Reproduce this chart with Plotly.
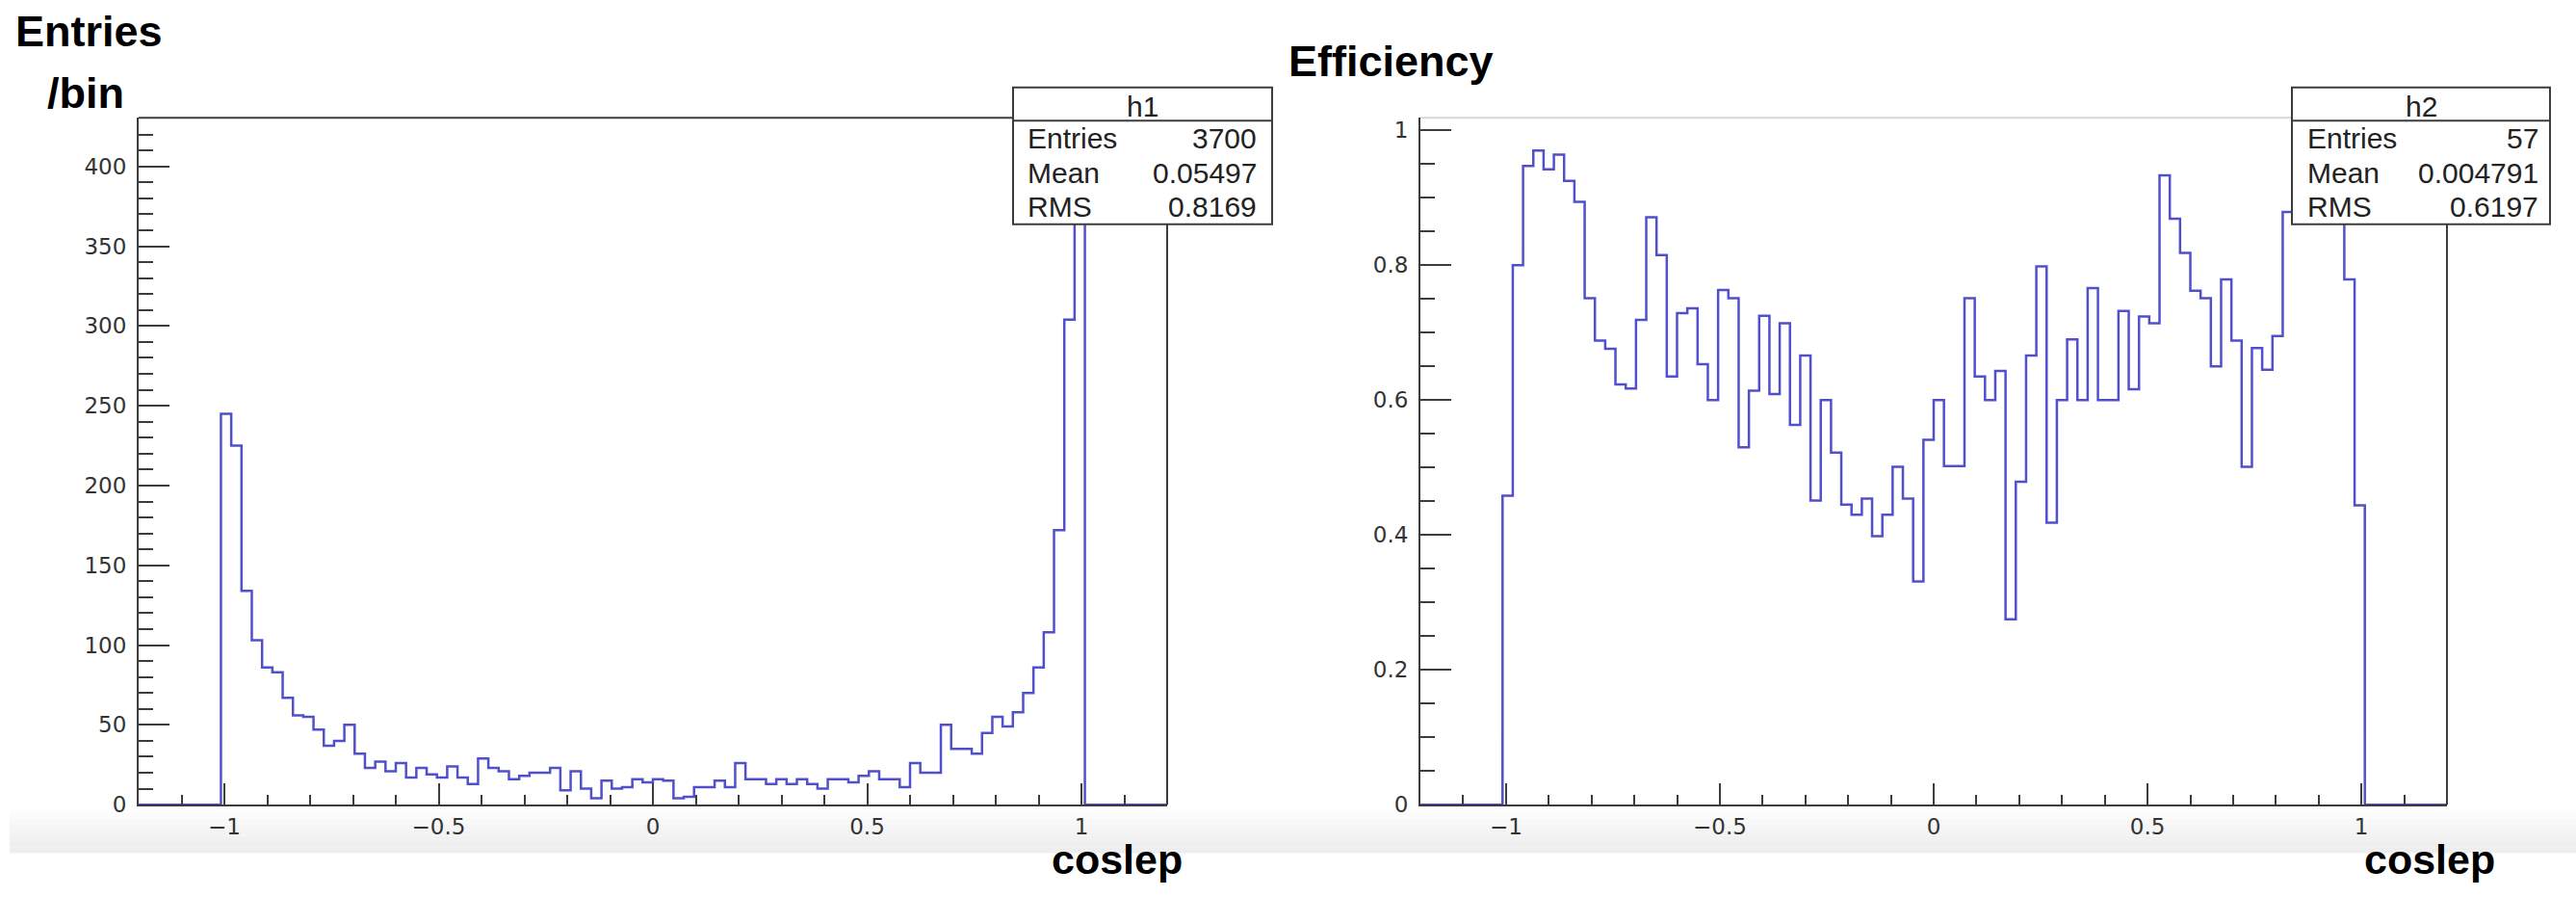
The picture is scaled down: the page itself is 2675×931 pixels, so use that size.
import plotly.graph_objects as go

W, H = 2675, 931

# ---------------- data ----------------
# both histograms: 100 bins on [-1.2, 1.2]; filled bins start at bin index 8
X_LO, X_HI, N_BINS = -1.2, 1.2, 100
FIRST_BIN = 8

entries_per_bin = [
    245, 225, 134, 103, 86, 83, 67, 56, 55, 47, 37, 40, 50, 32,
    23, 27, 21, 26, 17, 23, 19, 17, 24, 17, 13, 29, 23, 21, 16, 18,
    20, 20, 23, 9, 21, 10, 4, 15, 10, 11, 16, 14, 16, 15, 4, 5,
    11, 11, 15, 11, 26, 16, 16, 13, 16, 13, 16, 13, 10, 16, 16, 14,
    18, 21, 16, 16, 11, 26, 20, 20,
    50, 35, 35, 32, 45, 55, 49, 58, 70, 86, 108, 172, 304, 410,
]

efficiency = [
    0.458, 0.800, 0.947, 0.970, 0.942, 0.964, 0.925, 0.894, 0.751, 0.688,
    0.676, 0.623, 0.617, 0.719, 0.871, 0.815, 0.635, 0.729, 0.736, 0.653,
    0.600, 0.763, 0.751, 0.530, 0.614, 0.725, 0.609, 0.714, 0.563, 0.666,
    0.451, 0.600, 0.522, 0.445, 0.430, 0.454, 0.398, 0.430, 0.501, 0.454,
    0.331, 0.541, 0.600, 0.502, 0.502, 0.751, 0.635, 0.600, 0.643, 0.275,
    0.479, 0.666, 0.798, 0.418, 0.600, 0.690, 0.600, 0.766, 0.600, 0.600,
    0.732, 0.616, 0.724, 0.714, 0.933, 0.869, 0.818, 0.762, 0.751, 0.650,
    0.779, 0.688, 0.501, 0.677, 0.645, 0.695, 0.879, 0.900, 0.930, 0.950,
    0.920, 0.900, 0.779, 0.444,
]

x_tick_vals = [-1, -0.5, 0, 0.5, 1]
x_tick_text = ["\u22121", "\u22120.5", "0", "0.5", "1"]
y1_tick_vals = [0, 50, 100, 150, 200, 250, 300, 350, 400]
y2_tick_vals = [0, 0.2, 0.4, 0.6, 0.8, 1]
y2_tick_text = ["0", "0.2", "0.4", "0.6", "0.8", "1"]

stat_labels = ["Entries", "Mean", "RMS"]
h1_name, h1_values = "h1", ["3700", "0.05497", "0.8169"]
h2_name, h2_values = "h2", ["57", "0.004791", "0.6197"]

y1_max = 430.5
y2_max = 1.0185

# ---------------- styling ----------------
LINE = "#5050cc"
FRAME = "#3c3c3c"
TICKFONT = dict(family="DejaVu Sans", size=23, color="#333333")
BOXFONT = dict(family="Liberation Sans", size=30, color="#222222")
TITLEFONT = dict(family="Liberation Sans", size=45, color="#000000", weight="bold")
XTITLEFONT = dict(family="Liberation Sans", size=43, color="#000000", weight="bold")


def step_xy(vals):
    bw = (X_HI - X_LO) / N_BINS
    edges = [X_LO + bw * (FIRST_BIN + i) for i in range(len(vals) + 1)]
    xs = [X_LO] + edges[:-1] + [edges[-1], X_HI]
    ys = [0] + list(vals) + [0, 0]
    return xs, ys


def px(x):
    return x / W


def py(y):
    return 1 - y / H


fig = go.Figure()

xs1, ys1 = step_xy(entries_per_bin)
fig.add_trace(go.Scatter(x=xs1, y=ys1, mode="lines", line=dict(color=LINE, width=2.5, shape="hv"),
                         xaxis="x", yaxis="y", showlegend=False, hoverinfo="skip"))
xs2, ys2 = step_xy(efficiency)
fig.add_trace(go.Scatter(x=xs2, y=ys2, mode="lines", line=dict(color=LINE, width=2.5, shape="hv"),
                         xaxis="x2", yaxis="y2", showlegend=False, hoverinfo="skip"))

L = dict(x0=144, x1=1212)
R = dict(x0=1475, x1=2541)
Y_TOP, Y_BOT = 124, 847

common_x = dict(range=[X_LO, X_HI], tickmode="array", tickvals=x_tick_vals, ticktext=x_tick_text,
                ticks="inside", ticklen=22, tickwidth=2, tickcolor=FRAME,
                minor=dict(ticks="inside", ticklen=10, tickwidth=2, tickcolor=FRAME, tickmode="linear",
                           tick0=0, dtick=0.1),
                showline=True, linecolor=FRAME, linewidth=2, showgrid=False, zeroline=False,
                tickfont=TICKFONT, ticklabelstandoff=1, fixedrange=True)
common_y = dict(ticks="inside", ticklen=32, tickwidth=2, tickcolor=FRAME,
                showline=True, linecolor=FRAME, linewidth=2, showgrid=False, zeroline=False,
                tickfont=TICKFONT, ticklabelstandoff=6, fixedrange=True)

fig.update_layout(
    width=W, height=H, margin=dict(l=0, r=0, t=0, b=0),
    paper_bgcolor="white", plot_bgcolor="white", showlegend=False,
    xaxis=dict(domain=[px(L["x0"]), px(L["x1"])], anchor="y", **common_x),
    yaxis=dict(domain=[py(Y_BOT), py(Y_TOP)], anchor="x", range=[0, y1_max],
               tickmode="array", tickvals=y1_tick_vals,
               minor=dict(ticks="inside", ticklen=15, tickwidth=2, tickcolor=FRAME, tickmode="linear",
                          tick0=0, dtick=10), **common_y),
    xaxis2=dict(domain=[px(R["x0"]), px(R["x1"])], anchor="y2", **common_x),
    yaxis2=dict(domain=[py(Y_BOT), py(Y_TOP)], anchor="x2", range=[0, y2_max],
                tickmode="array", tickvals=y2_tick_vals, ticktext=y2_tick_text,
                minor=dict(ticks="inside", ticklen=15, tickwidth=2, tickcolor=FRAME, tickmode="linear",
                           tick0=0, dtick=0.05), **common_y),
)

shapes = []
# bottom grey gradient band of the screenshot
band_cols = ["#fefefe", "#fbfbfb", "#f8f8f8", "#f5f5f5", "#f3f3f3", "#f1f1f1", "#efefef", "#eeeeee"]
for i, c in enumerate(band_cols):
    y0 = 850 + i * 6
    shapes.append(dict(type="rect", xref="paper", yref="paper", x0=px(10), x1=1,
                       y0=py(y0 + 6), y1=py(y0), fillcolor=c, line=dict(width=0), layer="below"))

# frames: top + right lines
for xa, ya, topcol in (("x", "y", FRAME), ("x2", "y2", "#d6d6d6")):
    shapes.append(dict(type="line", xref=f"{xa} domain", yref=f"{ya} domain", x0=0, x1=1, y0=1, y1=1,
                       line=dict(color=topcol, width=2), layer="above"))
    shapes.append(dict(type="line", xref=f"{xa} domain", yref=f"{ya} domain", x0=1, x1=1, y0=0, y1=1,
                       line=dict(color=FRAME, width=2), layer="above"))

annotations = []


def stats_box(x0, x1, name, values, lab_pad, val_pad):
    top, sep, bot = 92, 127, 236
    shapes.append(dict(type="rect", xref="paper", yref="paper", x0=px(x0), x1=px(x1), y0=py(bot), y1=py(top),
                       fillcolor="white", line=dict(color=FRAME, width=2), layer="above"))
    shapes.append(dict(type="line", xref="paper", yref="paper", x0=px(x0), x1=px(x1), y0=py(sep), y1=py(sep),
                       line=dict(color=FRAME, width=2), layer="above"))
    annotations.append(dict(text=name, x=px((x0 + x1) / 2), y=py(112), xref="paper", yref="paper",
                            xanchor="center", yanchor="middle", showarrow=False, font=BOXFONT))
    for lab, val, yc in zip(stat_labels, values, (146, 182.5, 218)):
        annotations.append(dict(text=lab, x=px(x0 + lab_pad), y=py(yc), xref="paper", yref="paper",
                                xanchor="left", yanchor="middle", showarrow=False, font=BOXFONT))
        annotations.append(dict(text=val, x=px(x1 - val_pad), y=py(yc), xref="paper", yref="paper",
                                xanchor="right", yanchor="middle", showarrow=False, font=BOXFONT))


stats_box(1052, 1321, h1_name, h1_values, 13, 14)
stats_box(2380, 2648, h2_name, h2_values, 14, 10)

for text, x, y in (("Entries", 14, 33), ("/bin", 47, 98), ("Efficiency", 1336, 64)):
    annotations.append(dict(text=text, x=px(x), y=py(y), xref="paper", yref="paper",
                            xanchor="left", yanchor="middle", showarrow=False, font=TITLEFONT))
for x in (1091, 2454):
    annotations.append(dict(text="coslep", x=px(x), y=py(930), xref="paper", yref="paper",
                            xanchor="left", yanchor="bottom", showarrow=False, font=XTITLEFONT,
                            borderpad=0))

fig.update_layout(shapes=shapes, annotations=annotations)
fig.write_html("out.html")
